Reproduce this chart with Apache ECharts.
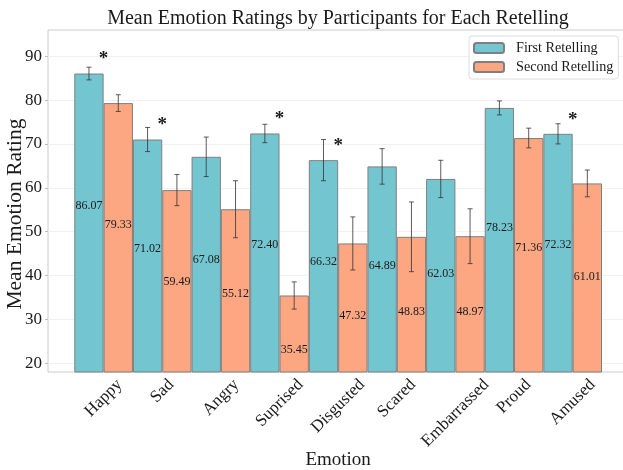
<!DOCTYPE html>
<html>
<head>
<meta charset="utf-8">
<script src="https://cdn.jsdelivr.net/npm/echarts@6/dist/echarts.min.js"></script>
<style>
  html, body { margin: 0; padding: 0; background: #ffffff; }
  #chart { width: 623px; height: 470px; }
</style>
</head>
<body>
<div id="chart"></div>
<script>
// Emotion categories and mean ratings for each retelling
const categories = ['Happy', 'Sad', 'Angry', 'Suprised', 'Disgusted', 'Scared', 'Embarrassed', 'Proud', 'Amused'];
const firstMeans = [86.07, 71.02, 67.08, 72.40, 66.32, 64.89, 62.03, 78.23, 72.32];
const secondMeans = [79.33, 59.49, 55.12, 35.45, 47.32, 48.83, 48.97, 71.36, 61.01];
// Error bar half-lengths (standard error)
const firstErr = [1.45, 2.75, 4.5, 2.1, 4.7, 4.05, 4.25, 1.6, 2.3];
const secondErr = [1.9, 3.55, 6.5, 3.1, 6.05, 7.95, 6.25, 2.25, 3.05];
// Emotions with a significant difference between retellings
const significant = ['Happy', 'Sad', 'Suprised', 'Disgusted', 'Amused'];
// Y axis tick labels
const yTicks = [20, 30, 40, 50, 60, 70, 80, 90];

const TITLE = 'Mean Emotion Ratings by Participants for Each Retelling';
const SERIF = '"Liberation Serif", "Times New Roman", serif';
const TEAL = '#73c6d0';
const ORANGE = '#fca682';
const EDGE = '#7f7f7f';
const Y_MIN = 18, Y_MAX = 96;
const CAT_FONT = 17;
const PLOT_CENTER_X = 338;

const measureCtx = document.createElement('canvas').getContext('2d');
function textWidth(text, size) {
  measureCtx.font = size + 'px "Liberation Serif"';
  return measureCtx.measureText(text).width;
}

const errData = [];
const labelData = [];
categories.forEach(function (c, i) {
  errData.push([i, firstMeans[i], firstErr[i], -1]);
  errData.push([i, secondMeans[i], secondErr[i], 1]);
  labelData.push([i, firstMeans[i], -1]);
  labelData.push([i, secondMeans[i], 1]);
});
const starData = significant.map(function (name) {
  const i = categories.indexOf(name);
  return [i, firstMeans[i]];
});
const catData = categories.map(function (c, i) { return [i, Y_MIN]; });

const chart = echarts.init(document.getElementById('chart'), null, { renderer: 'canvas' });

const option = {
  animation: false,
  backgroundColor: '#ffffff',
  textStyle: { fontFamily: SERIF },
  title: {
    text: TITLE,
    left: PLOT_CENTER_X - textWidth(TITLE, 20) / 2,
    top: 9,
    padding: 0,
    textStyle: { fontFamily: SERIF, fontSize: 20, fontWeight: 'normal', color: '#1a1a1a' }
  },
  legend: {
    data: ['First Retelling', 'Second Retelling'],
    orient: 'vertical',
    left: 469,
    top: 36,
    padding: [5, 5, 5, 4],
    itemWidth: 30,
    itemHeight: 10,
    itemGap: 5,
    backgroundColor: '#ffffff',
    borderColor: '#dddddd',
    borderWidth: 1,
    borderRadius: 3,
    textStyle: { fontFamily: SERIF, fontSize: 14.2, color: '#1a1a1a', padding: [0, 0, 0, 7] }
  },
  grid: [
    // frame of the plotting area
    { left: 48, right: -5.4, top: 30, bottom: 98, show: true, borderColor: '#cccccc', borderWidth: 1,
      backgroundColor: 'transparent', outerBoundsMode: 'none', containLabel: false },
    // bar groups
    { left: 74.3, right: 21, top: 30, bottom: 98, outerBoundsMode: 'none', containLabel: false }
  ],
  xAxis: [
    { gridIndex: 0, type: 'value', min: 0, max: 1, show: false },
    {
      gridIndex: 1,
      type: 'category',
      data: categories,
      name: 'Emotion',
      nameLocation: 'middle',
      nameGap: 79,
      nameMoveOverlap: false,
      nameTextStyle: { fontFamily: SERIF, fontSize: 19, color: '#1a1a1a' },
      axisLine: { show: false },
      axisTick: { show: false },
      axisLabel: { show: false },
      splitLine: { show: false }
    }
  ],
  yAxis: [
    {
      gridIndex: 0,
      type: 'value',
      min: Y_MIN,
      max: Y_MAX,
      name: 'Mean Emotion Rating',
      nameLocation: 'middle',
      nameGap: 22,
      nameMoveOverlap: false,
      nameTextStyle: { fontFamily: SERIF, fontSize: 21.5, color: '#1a1a1a', padding: [0, 26, 0, 0] },
      axisLine: { show: false },
      axisTick: { show: true, length: 3, customValues: yTicks, lineStyle: { color: '#bbbbbb' } },
      axisLabel: { customValues: yTicks, margin: 6, fontFamily: SERIF, fontSize: 17, color: '#1a1a1a' },
      splitLine: { show: true, lineStyle: { color: '#f1f1f1', width: 1 } }
    },
    { gridIndex: 1, type: 'value', min: Y_MIN, max: Y_MAX, show: false, splitLine: { show: false } }
  ],
  series: [
    {
      name: 'First Retelling',
      type: 'bar',
      xAxisIndex: 1,
      yAxisIndex: 1,
      data: firstMeans,
      barWidth: '50%',
      barGap: '0%',
      barCategoryGap: '0%',
      itemStyle: { color: TEAL, borderColor: EDGE, borderWidth: 1 },
      z: 2
    },
    {
      name: 'Second Retelling',
      type: 'bar',
      xAxisIndex: 1,
      yAxisIndex: 1,
      data: secondMeans,
      barWidth: '50%',
      barGap: '0%',
      barCategoryGap: '0%',
      itemStyle: { color: ORANGE, borderColor: EDGE, borderWidth: 1 },
      z: 2
    },
    {
      name: 'errors',
      type: 'custom',
      xAxisIndex: 1,
      yAxisIndex: 1,
      data: errData,
      encode: { x: 0, y: 1 },
      z: 5,
      silent: true,
      renderItem: function (params, api) {
        const x = api.value(0), m = api.value(1), e = api.value(2), side = api.value(3);
        const band = api.size([1, 0])[0];
        const top = api.coord([x, m + e]);
        const bot = api.coord([x, m - e]);
        const cx = top[0] + side * band / 4;
        const cap = 2.5;
        const st = { stroke: '#333333', lineWidth: 1, opacity: 0.8 };
        return {
          type: 'group',
          children: [
            { type: 'line', shape: { x1: cx, y1: top[1], x2: cx, y2: bot[1] }, style: st },
            { type: 'line', shape: { x1: cx - cap, y1: top[1], x2: cx + cap, y2: top[1] }, style: st },
            { type: 'line', shape: { x1: cx - cap, y1: bot[1], x2: cx + cap, y2: bot[1] }, style: st }
          ]
        };
      }
    },
    {
      name: 'values',
      type: 'custom',
      xAxisIndex: 1,
      yAxisIndex: 1,
      data: labelData,
      encode: { x: 0, y: 1 },
      z: 6,
      silent: true,
      renderItem: function (params, api) {
        const x = api.value(0), m = api.value(1), side = api.value(2);
        const band = api.size([1, 0])[0];
        const p = api.coord([x, m * 0.65]);
        return {
          type: 'text',
          style: {
            text: m.toFixed(2),
            x: p[0] + side * band / 4,
            y: p[1],
            align: 'center',
            verticalAlign: 'middle',
            fill: '#1a1a1a',
            fontFamily: SERIF,
            fontSize: 12
          }
        };
      }
    },
    {
      name: 'significance',
      type: 'custom',
      xAxisIndex: 1,
      yAxisIndex: 1,
      data: starData,
      encode: { x: 0, y: 1 },
      z: 6,
      silent: true,
      renderItem: function (params, api) {
        const p = api.coord([api.value(0), api.value(1) + 3.2]);
        return {
          type: 'text',
          style: {
            text: '*',
            x: p[0],
            y: p[1],
            align: 'center',
            verticalAlign: 'middle',
            fill: '#1a1a1a',
            fontFamily: SERIF,
            fontSize: 19,
            fontWeight: 'bold'
          }
        };
      }
    },
    {
      // category names, rotated 45 degrees and centred under each group
      name: 'categoryNames',
      type: 'custom',
      xAxisIndex: 1,
      yAxisIndex: 1,
      data: catData,
      encode: { x: 0, y: 1 },
      clip: false,
      z: 6,
      silent: true,
      renderItem: function (params, api) {
        const i = api.value(0);
        const p = api.coord([i, api.value(1)]);
        const name = categories[i];
        const w = textWidth(name, CAT_FONT);
        const boxH = (w + CAT_FONT) * Math.SQRT1_2;
        return {
          type: 'text',
          x: p[0],
          y: p[1] + 4 + boxH / 2,
          rotation: Math.PI / 4,
          style: {
            text: name,
            align: 'center',
            verticalAlign: 'middle',
            fill: '#1a1a1a',
            fontFamily: SERIF,
            fontSize: CAT_FONT
          }
        };
      }
    }
  ]
};

chart.setOption(option);
</script>
</body>
</html>
